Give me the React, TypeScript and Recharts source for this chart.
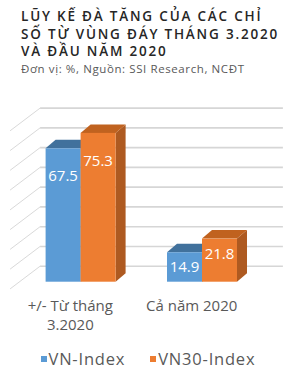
import React from 'react';
import { BarChart, Bar, XAxis, YAxis, CartesianGrid, LabelList } from 'recharts';

const categories = ['+/- Từ tháng 3.2020', 'Cả năm 2020'];
const tickLines = [['+/- Từ tháng', '3.2020'], ['Cả năm 2020']];
const vnIndex = [67.5, 14.9];
const vn30Index = [75.3, 21.8];
const yTicks = [0, 10, 20, 30, 40, 50, 60, 70, 80];

const titleLines = ['LŨY KẾ ĐÀ TĂNG CỦA CÁC CHỈ', 'SỐ TỪ VÙNG ĐÁY THÁNG 3.2020', 'VÀ ĐẦU NĂM 2020'];
const subtitle = 'Đơn vị: %, Nguồn: SSI Research, NCĐT';

const series = [
  { key: 'vn', name: 'VN-Index', front: '#5b9bd5', top: '#41719c', side: '#3e6d99' },
  { key: 'vn30', name: 'VN30-Index', front: '#ed7d31', top: '#c0621f', side: '#ae5a21' },
];

const data = categories.map((c, i) => ({ name: c, vn: vnIndex[i], vn30: vn30Index[i] }));

const FONT = '"Open Sans", sans-serif';
const W = 292;
const H = 382;
const MARGIN = { top: 123.6, right: 29.6, bottom: 40.3, left: 19.6 };
// depth of bars and of the back wall
const BAR_DX = 10;
const BAR_DY = 8.5;
const WALL_DX = 20.5;
const WALL_DY = 15.5;

function Bar3D(props: any) {
  const { x, y, width, height, front, top, side } = props;
  if (!height || height <= 0) return null;
  const topFace = `M${x},${y} L${x + BAR_DX},${y - BAR_DY} L${x + width + BAR_DX},${y - BAR_DY} L${x + width},${y} Z`;
  const sideFace = `M${x + width},${y} L${x + width + BAR_DX},${y - BAR_DY} L${x + width + BAR_DX},${y + height - BAR_DY} L${x + width},${y + height} Z`;
  return (
    <g>
      <path d={sideFace} fill={side} />
      <path d={topFace} fill={top} />
      <rect x={x} y={y} width={width} height={height} fill={front} />
    </g>
  );
}

function GridLine(props: any) {
  const yb = props.y1 - WALL_DY;
  const xb = MARGIN.left + WALL_DX;
  const xe = W - MARGIN.right + WALL_DX;
  return (
    <g>
      <line x1={xb} y1={yb} x2={xe} y2={yb + 0.01} stroke="#d6d6d6" strokeWidth={1.6} />
      <line x1={xb} y1={yb} x2={xb - 30} y2={yb + 22.7} stroke="#d9d9d9" strokeWidth={1} />
    </g>
  );
}

function InsideLabel(props: any) {
  const { x, y, width, height, value } = props;
  const off = height > 100 ? 27 : 14;
  return (
    <text x={x + width / 2} y={y + off} textAnchor="middle" dominantBaseline="central"
      fill="#ffffff" fontFamily={FONT} fontSize={15}>
      {value}
    </text>
  );
}

function CategoryTick(props: any) {
  const { x, y, index } = props;
  const lines = tickLines[index] || [];
  return (
    <g transform={`translate(${x - 10},${y})`}>
      {lines.map((l, i) => (
        <text key={i} x={0} y={15 + i * 19.5} textAnchor="middle" dominantBaseline="central"
          fill="#595959" fontFamily={FONT} fontSize={15}>
          {l}
        </text>
      ))}
    </g>
  );
}

export default function App() {
  return (
    <div style={{ position: 'relative', width: W, height: H, background: '#ffffff', overflow: 'hidden' }}>
      <style>{`body{margin:0}`}</style>
      {titleLines.map((t, i) => (
        <div key={i} style={{
          position: 'absolute', left: 21, top: 8 + i * 17.5, lineHeight: '17px', whiteSpace: 'nowrap',
          fontFamily: FONT, fontWeight: 600, fontSize: 13.5, letterSpacing: 1.8, color: '#262626',
        }}>{t}</div>
      ))}
      <div style={{
        position: 'absolute', left: 21, top: 61, lineHeight: '16px', whiteSpace: 'nowrap',
        fontFamily: FONT, fontSize: 11.5, letterSpacing: 0.6, color: '#595959',
      }}>{subtitle}</div>

      <div style={{ position: 'absolute', left: 0, top: 0 }}>
        <BarChart width={W} height={H} data={data} barGap={0} barSize={35} margin={MARGIN}>
          <CartesianGrid vertical={false} horizontal={(p: any) => <GridLine key={p.key} {...p} />} />
          <YAxis hide domain={[0, 80]} ticks={yTicks} interval={0} />
          <XAxis dataKey="name" height={60} axisLine={false} tickLine={false} interval={0}
            tick={(p: any) => <CategoryTick {...p} />} />
          {series.map((s) => (
            <Bar key={s.key} dataKey={s.key} name={s.name} isAnimationActive={false}
              shape={(p: any) => <Bar3D {...p} front={s.front} top={s.top} side={s.side} />}>
              <LabelList dataKey={s.key} content={(p: any) => <InsideLabel {...p} />} />
            </Bar>
          ))}
        </BarChart>
      </div>

      <div style={{
        position: 'absolute', left: 40.5, top: 347, display: 'flex', alignItems: 'center',
        fontFamily: FONT, fontSize: 16.5, letterSpacing: 0.8, color: '#595959', whiteSpace: 'nowrap',
      }}>
        {series.map((s, i) => (
          <div key={s.key} style={{ display: 'flex', alignItems: 'center', marginRight: i === 0 ? 25 : 0 }}>
            <span style={{ width: 6, height: 6, background: s.front, marginRight: 2 }} />
            <span>{s.name}</span>
          </div>
        ))}
      </div>
    </div>
  );
}
